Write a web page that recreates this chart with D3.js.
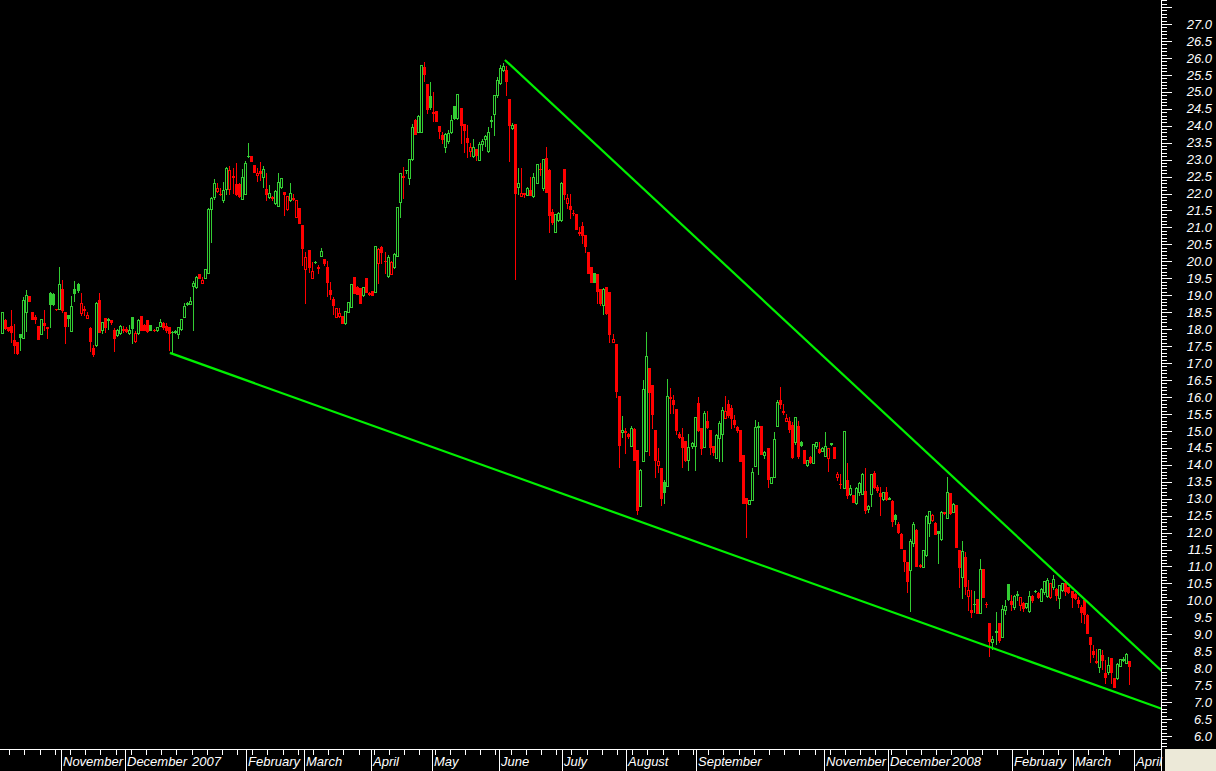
<!DOCTYPE html>
<html><head><meta charset="utf-8">
<script src="https://cdn.jsdelivr.net/npm/d3@7/dist/d3.min.js"></script>
<style>html,body{margin:0;padding:0;background:#000;overflow:hidden}</style>
</head><body><svg id="c" width="1216" height="771"></svg>
<script>
const opens=[17.88,18.27,18.05,18.10,17.68,17.63,17.86,17.73,18.50,18.98,18.52,18.37,18.09,17.86,18.17,18.07,19.06,19.05,18.59,18.58,19.18,18.52,18.42,17.95,19.18,19.32,18.47,18.60,18.32,18.02,17.43,17.53,18.86,17.98,18.32,18.30,18.27,17.98,17.83,17.88,18.00,18.00,17.88,18.35,17.65,17.90,18.40,18.12,18.27,18.12,17.98,17.97,18.10,18.17,18.09,18.07,17.92,17.93,17.85,18.00,18.36,18.75,18.73,19.28,19.23,19.62,19.35,19.52,19.66,21.54,21.90,22.07,22.00,21.80,22.12,22.12,22.52,22.27,22.27,21.85,22.00,23.10,23.10,22.84,22.54,22.65,22.50,22.12,21.90,21.90,21.73,21.64,22.18,22.04,21.54,21.80,21.87,21.30,21.56,21.07,19.76,20.33,19.52,19.97,19.82,20.16,20.06,19.82,19.15,18.90,18.37,18.38,18.39,18.17,18.51,18.66,19.53,19.23,19.20,19.00,19.50,19.07,19.12,19.10,19.94,20.43,20.02,19.57,19.64,19.82,20.17,21.76,22.52,22.68,22.47,23.01,24.17,23.82,23.80,25.72,25.23,24.88,24.40,24.43,24.00,23.73,23.38,23.56,23.82,24.58,24.22,24.51,24.05,23.63,23.26,23.10,23.30,23.00,23.46,23.62,23.24,24.14,24.36,24.90,25.25,25.65,25.64,24.78,23.93,24.05,22.20,21.93,22.03,21.96,22.10,21.93,22.32,22.73,22.15,23.06,22.69,21.46,20.87,21.22,21.22,22.72,21.71,21.64,21.44,21.39,20.86,21.05,20.78,20.28,19.82,19.66,19.62,19.17,18.71,19.23,19.10,17.63,17.56,16.03,14.97,15.00,14.90,14.56,15.05,14.43,12.79,14.12,14.41,16.84,16.35,15.02,14.00,13.89,13.50,13.38,16.00,15.91,15.63,14.90,14.83,14.71,14.14,14.54,14.56,15.81,15.07,14.53,15.29,15.02,14.55,14.19,14.78,14.92,15.39,15.79,15.66,15.32,15.12,15.02,14.29,13.01,12.84,12.96,13.97,15.12,15.15,14.30,14.48,13.47,13.63,15.15,15.91,15.60,15.30,15.30,15.17,14.68,15.15,14.66,14.43,13.99,14.24,14.06,14.56,14.46,14.42,14.27,14.19,14.62,14.53,13.63,13.43,13.30,13.55,13.15,13.11,12.88,13.20,13.15,13.23,12.70,13.15,13.76,13.33,13.18,12.98,13.20,13.00,12.94,12.52,12.25,11.96,11.48,11.14,10.91,11.68,12.07,11.05,10.99,11.34,12.27,12.37,12.29,12.04,11.80,12.60,12.42,13.17,12.61,12.81,11.48,10.70,11.29,10.14,9.72,9.88,10.03,9.64,10.92,9.90,9.34,8.78,9.10,9.34,8.91,9.71,10.47,9.98,9.81,10.20,9.86,9.93,9.81,9.69,10.13,10.27,10.23,9.99,10.26,10.13,10.09,10.38,10.35,10.06,10.30,10.50,10.38,10.27,10.20,10.01,9.81,10.01,9.57,8.93,8.52,8.18,8.04,8.39,7.85,7.89,8.29,7.70,7.70,8.06,8.25,8.16,8.21];
const highs=[18.52,18.30,18.05,18.57,18.15,17.63,17.86,18.96,19.14,18.98,18.52,18.42,18.10,18.30,18.55,18.07,19.10,19.06,18.60,19.84,19.45,18.52,18.42,18.98,19.43,19.35,19.06,18.67,18.52,18.05,17.53,18.80,19.06,18.22,18.32,18.32,18.28,18.02,18.00,18.12,18.10,18.07,18.12,18.35,17.95,18.30,18.40,18.16,18.27,18.12,18.00,18.07,18.30,18.20,18.17,18.07,17.95,17.96,18.05,18.30,18.78,18.80,18.95,19.43,19.57,19.62,19.55,19.76,21.56,21.90,22.42,22.30,22.15,22.35,22.79,22.80,22.74,22.89,22.30,22.71,22.95,23.50,23.10,22.84,22.74,22.92,22.80,22.60,22.25,21.92,22.10,22.60,22.47,22.05,21.93,22.30,22.00,21.82,21.56,21.07,20.28,20.33,19.99,20.00,19.90,20.38,20.06,20.02,19.38,18.95,18.61,18.61,18.39,18.54,18.81,19.34,19.53,19.27,19.20,19.23,19.50,19.10,19.12,20.45,20.38,20.45,20.28,20.20,20.00,20.25,21.60,22.62,22.77,22.70,23.03,24.04,24.20,24.33,25.80,25.87,25.23,25.28,24.98,24.43,24.00,23.82,23.78,23.87,24.32,24.58,24.95,24.51,24.05,24.02,23.50,23.60,23.32,23.53,23.60,23.72,23.95,24.30,24.90,25.45,25.79,25.84,25.76,24.78,24.08,24.05,22.74,22.74,22.03,22.20,22.48,22.60,22.86,22.89,23.01,23.38,22.72,21.53,21.41,21.45,22.35,22.72,22.00,22.00,21.50,21.39,21.02,21.17,20.78,20.28,19.82,19.66,19.62,19.17,19.20,19.25,19.10,17.87,17.56,16.03,15.44,15.07,14.95,15.15,15.07,14.43,13.87,16.50,17.91,16.84,16.35,15.02,14.48,13.89,13.55,16.52,16.25,16.05,15.63,14.97,15.07,14.71,14.90,14.68,15.42,16.00,15.07,15.60,15.60,15.02,14.55,14.90,15.30,15.70,16.03,15.90,15.75,15.46,15.15,15.02,14.29,13.01,12.96,13.89,15.32,15.27,15.15,14.40,14.48,13.65,14.97,15.90,16.30,15.80,15.49,15.42,15.25,15.42,15.30,14.70,14.43,14.14,14.25,14.60,14.68,14.66,14.53,14.97,14.50,14.65,14.53,13.80,13.74,14.99,14.04,13.40,13.11,13.35,13.50,13.76,13.89,12.80,13.74,13.81,13.40,13.35,13.20,13.35,13.05,12.96,12.55,12.30,12.00,11.50,11.14,11.80,12.30,12.10,11.08,11.50,12.52,12.65,12.55,12.30,12.05,12.64,12.62,13.63,13.17,12.86,12.81,11.48,11.75,11.44,10.60,10.30,10.27,10.03,11.21,10.92,9.96,9.34,8.95,9.66,9.34,9.86,10.01,10.47,10.16,10.15,10.27,10.11,9.95,9.93,10.27,10.15,10.30,10.26,10.37,10.57,10.65,10.51,10.75,10.37,10.45,10.52,10.58,10.40,10.27,10.22,10.09,9.85,10.05,9.60,8.93,8.68,8.58,8.58,8.54,8.24,8.34,8.30,7.72,8.14,8.28,8.34,8.45,8.21];
const lows=[17.88,18.00,17.94,17.63,17.30,17.28,17.38,17.73,17.95,18.84,18.30,18.19,17.70,17.86,17.97,17.73,18.07,18.70,18.55,18.58,18.50,17.58,18.10,17.95,18.84,19.10,18.42,18.42,18.32,17.37,17.20,17.50,17.93,17.90,17.93,18.00,18.15,17.37,17.80,17.85,17.92,17.92,17.85,17.60,17.63,17.85,17.98,17.96,17.93,17.97,17.94,17.95,18.08,18.00,17.92,17.38,17.30,17.90,17.73,17.98,18.36,18.70,18.73,17.97,19.20,19.50,19.35,19.50,19.66,20.58,21.85,22.05,21.95,21.75,22.00,22.00,22.02,21.95,21.90,21.85,22.00,23.08,22.97,22.64,22.37,22.40,22.20,21.80,21.88,21.80,21.70,21.62,22.15,21.36,21.50,21.78,21.82,21.30,21.14,19.89,18.76,19.70,19.52,19.95,19.66,20.16,19.90,18.98,18.90,18.46,18.35,18.36,18.17,18.15,18.50,18.64,19.07,19.04,18.78,18.98,19.10,19.00,19.00,19.10,19.35,19.94,19.66,19.55,19.64,19.80,20.15,21.32,21.88,22.60,22.27,22.99,23.75,23.80,23.80,25.32,24.38,24.48,24.15,24.15,23.63,23.50,23.23,23.48,23.78,24.20,24.20,23.50,23.23,23.08,23.10,23.08,23.00,22.99,23.27,23.40,23.23,23.97,23.73,24.85,25.23,25.62,24.90,22.96,23.90,19.47,22.00,21.93,21.90,21.95,21.95,21.90,22.30,22.54,22.10,22.05,20.87,21.10,20.87,21.20,21.20,21.85,21.56,21.27,21.38,20.95,20.77,20.53,20.28,19.66,19.38,19.38,18.78,18.70,18.46,18.45,17.63,17.63,16.00,13.94,14.83,14.35,14.80,14.55,14.14,12.56,12.79,14.12,14.41,14.29,15.07,13.65,13.80,12.81,12.86,13.38,15.52,15.52,14.92,14.78,13.94,14.10,13.84,14.50,13.84,15.00,14.33,14.53,15.07,14.33,14.30,14.19,14.10,14.10,15.38,15.40,15.07,15.10,14.98,14.12,12.88,11.88,12.84,12.96,13.97,13.74,14.33,14.20,13.33,13.45,13.63,15.15,15.66,15.50,15.28,14.98,14.20,14.60,14.20,14.55,14.06,13.97,14.05,14.05,14.50,14.35,14.40,14.27,13.83,14.58,14.19,13.55,13.30,13.30,13.01,13.10,12.90,12.85,13.10,13.14,12.57,12.60,12.78,13.30,13.20,12.52,12.97,12.97,12.98,12.20,12.25,12.00,11.55,10.88,10.26,9.68,11.60,11.00,10.97,10.97,11.30,11.90,12.35,11.95,11.09,11.78,12.55,12.42,12.55,12.60,11.58,10.40,10.06,10.20,9.72,9.52,9.67,9.64,9.64,10.10,9.80,8.36,8.58,8.71,8.78,8.91,9.61,10.00,9.71,9.75,10.01,9.71,9.70,9.79,9.67,9.95,10.25,10.06,9.97,10.20,10.10,10.08,10.35,10.00,9.77,10.28,10.16,10.22,9.81,10.05,9.81,9.37,9.34,9.03,8.19,8.34,8.15,7.89,7.98,7.55,7.84,7.55,7.45,7.68,8.05,8.20,8.15,7.53];
const closes=[18.52,18.04,17.96,17.93,17.53,17.30,17.76,18.86,19.00,18.84,18.30,18.29,17.72,18.29,18.12,18.02,18.73,18.75,18.58,19.32,18.55,18.10,18.34,18.68,19.08,19.15,18.76,18.55,18.42,17.66,17.28,18.76,17.93,18.22,18.07,18.27,18.20,17.73,17.96,18.10,17.96,17.94,17.98,18.02,17.90,18.27,17.98,17.96,17.95,17.97,17.96,18.06,18.20,18.07,17.97,17.90,17.93,17.95,18.05,18.30,18.69,18.76,18.83,19.37,19.55,19.50,19.45,19.76,21.54,21.88,22.30,22.17,21.98,22.10,22.74,22.69,22.50,22.00,21.92,22.50,22.89,23.11,22.97,22.64,22.61,22.60,22.71,22.00,22.02,21.88,22.08,22.35,22.45,22.00,21.92,22.02,21.85,21.80,21.14,20.40,20.13,19.84,19.71,19.98,19.80,20.30,19.96,19.40,19.03,18.71,18.61,18.49,18.19,18.54,18.81,19.32,19.07,19.05,18.78,19.23,19.10,19.05,19.00,20.45,20.35,20.28,20.00,20.14,19.99,20.21,21.59,22.62,22.50,22.69,23.02,23.95,23.75,24.29,25.79,25.54,24.48,24.54,24.38,24.15,23.85,23.60,23.77,23.78,24.17,24.22,24.95,24.02,23.87,23.53,23.36,23.38,23.13,23.46,23.56,23.70,23.82,24.16,24.90,25.35,25.69,25.76,25.33,24.02,24.03,22.02,22.30,22.02,22.00,22.15,21.95,22.50,22.86,22.71,23.01,22.05,21.36,21.17,21.41,21.42,22.30,22.00,21.86,21.54,21.43,20.95,20.85,20.78,20.46,19.66,19.38,19.40,19.13,18.76,19.17,18.49,17.87,17.70,16.18,14.59,15.02,14.97,14.85,15.07,14.14,12.68,13.84,16.23,17.21,16.15,15.51,14.14,14.12,13.01,13.20,16.03,15.98,15.79,15.02,14.83,14.53,14.14,14.53,14.63,15.41,15.02,14.48,15.53,15.12,14.53,14.38,14.87,15.24,15.61,15.60,15.47,15.37,15.20,15.02,14.12,12.88,12.87,12.96,13.79,15.12,15.15,14.33,14.38,13.58,13.65,14.75,15.84,15.79,15.56,15.39,15.05,14.24,15.40,14.27,14.58,14.06,14.14,14.09,14.60,14.66,14.38,14.50,14.56,14.50,14.63,14.19,13.72,13.42,14.99,13.11,13.30,12.91,13.30,13.45,13.74,12.66,12.78,13.74,13.33,13.25,13.08,13.20,12.98,13.02,12.35,12.40,12.03,11.55,11.17,10.58,11.75,12.25,11.01,11.00,11.48,12.49,12.63,12.52,11.96,11.99,12.62,12.57,13.19,12.59,12.84,11.58,10.99,11.46,10.42,10.30,9.67,9.90,9.64,10.94,10.10,9.88,8.80,8.85,9.06,8.83,9.76,9.84,10.03,9.89,10.13,10.15,10.09,9.79,9.91,10.13,10.01,10.29,10.11,10.35,10.57,10.60,10.50,10.62,10.16,10.45,10.50,10.28,10.25,10.11,10.08,9.93,9.66,9.61,9.03,8.71,8.42,8.20,8.56,8.24,7.75,8.09,7.89,7.45,8.12,8.26,8.27,8.43,8.07];

const monthStarts=[20,41,62,81,100,122,142,164,185,206,229,271,292,312,333,353,373];
const monthLabels=["November","December","2007","February","March","April","May","June","July","August","September","November","December","2008","February","March","April"];
const priceTicksMajor=d3.range(6.0,27.01,0.5);
const trendLow=[[55.9,17.30],[382.6,6.79]];
const trendHigh=[[166.1,25.94],[382.6,7.88]];

const W=1216,H=771,axisX=1161.5,plotBottom=749;
const svg=d3.select("#c");
svg.append("rect").attr("width",W).attr("height",H).attr("fill","#000");
const x=d3.scaleLinear().domain([0,382.6]).range([0,1163]);
const y=d3.scaleLinear().domain([6,27]).range([736,24]);
const GREEN="#33cc33",RED="#ff0000",TREND="#00f000";

svg.append("clipPath").attr("id","pc").append("rect").attr("x",0).attr("y",0).attr("width",axisX).attr("height",plotBottom);
const g=svg.append("g").attr("clip-path","url(#pc)").attr("shape-rendering","crispEdges");

const data=opens.map((o,i)=>({i,o,h:highs[i],l:lows[i],c:closes[i],pc:i>0?closes[i-1]:opens[i]}));
data.forEach(d=>{
  const col=Math.round(x(d.i+0.5));
  const color=d.c>=d.pc?GREEN:RED;
  const filled=d.c<d.o;
  const top=Math.round(y(Math.max(d.o,d.c))),bot=Math.round(y(Math.min(d.o,d.c)));
  g.append("line").attr("x1",col+0.5).attr("x2",col+0.5)
    .attr("y1",Math.round(y(d.h))).attr("y2",Math.round(y(d.l))+1)
    .attr("stroke",color).attr("stroke-width",1);
  if(filled||bot-top<2){
    g.append("rect").attr("x",col-1).attr("y",top).attr("width",3).attr("height",Math.max(1,bot-top+1)).attr("fill",color);
  } else {
    g.append("rect").attr("x",col-0.5).attr("y",top+0.5).attr("width",2).attr("height",bot-top).attr("fill","#000").attr("stroke",color).attr("stroke-width",1);
  }
});

const line=d3.line().x(p=>x(p[0])).y(p=>y(p[1]));
const tg=svg.append("g").attr("clip-path","url(#pc)");
[trendLow,trendHigh].forEach(t=>tg.append("path").attr("d",line(t)).attr("fill","none").attr("stroke",TREND).attr("stroke-width",2.2));

// right axis
const ax=svg.append("g").attr("shape-rendering","crispEdges");
ax.append("line").attr("x1",axisX).attr("x2",axisX).attr("y1",0).attr("y2",H).attr("stroke","#fff");
d3.range(57,278).forEach(k=>{
  const v=k/10; const yy=Math.round(y(v))+0.5;
  if(yy<0||yy>plotBottom) return;
  const major=(k%5===0);
  ax.append("line").attr("x1",axisX).attr("x2",axisX+(major?10.5:5.5)).attr("y1",yy).attr("y2",yy).attr("stroke","#fff");
});
svg.append("g").selectAll("text").data(priceTicksMajor).join("text")
  .attr("x",1212).attr("y",v=>y(v)).attr("dy","0.36em").attr("text-anchor","end")
  .attr("fill","#fff").attr("font-family","'Liberation Sans',Arial,sans-serif").attr("font-style","italic").attr("font-size",13)
  .text(v=>v.toFixed(1));

// bottom axis
ax.append("line").attr("x1",0).attr("x2",axisX).attr("y1",plotBottom+0.5).attr("y2",plotBottom+0.5).attr("stroke","#fff");
for(let i=3;i<373;i+=5){
  const xx=Math.round(x(i))+0.5;
  ax.append("line").attr("x1",xx).attr("x2",xx).attr("y1",plotBottom).attr("y2",plotBottom+6).attr("stroke","#fff");
}
monthStarts.forEach((s,k)=>{
  const lab=monthLabels[k];
  const isYear=/^\d+$/.test(lab);
  const xx=Math.round(x(s))+0.5;
  if(!isYear) ax.append("line").attr("x1",xx).attr("x2",xx).attr("y1",plotBottom).attr("y2",H).attr("stroke","#fff");
  svg.append("text").attr("x",xx+(isYear?3.5:1.5)).attr("y",766).attr("fill","#fff")
    .attr("font-family","'Liberation Sans',Arial,sans-serif").attr("font-style","italic").attr("font-size",13).text(lab);
});
svg.append("rect").attr("x",1165).attr("y",749).attr("width",W-1165).attr("height",H-749).attr("fill","#ece9d8");
</script></body></html>
